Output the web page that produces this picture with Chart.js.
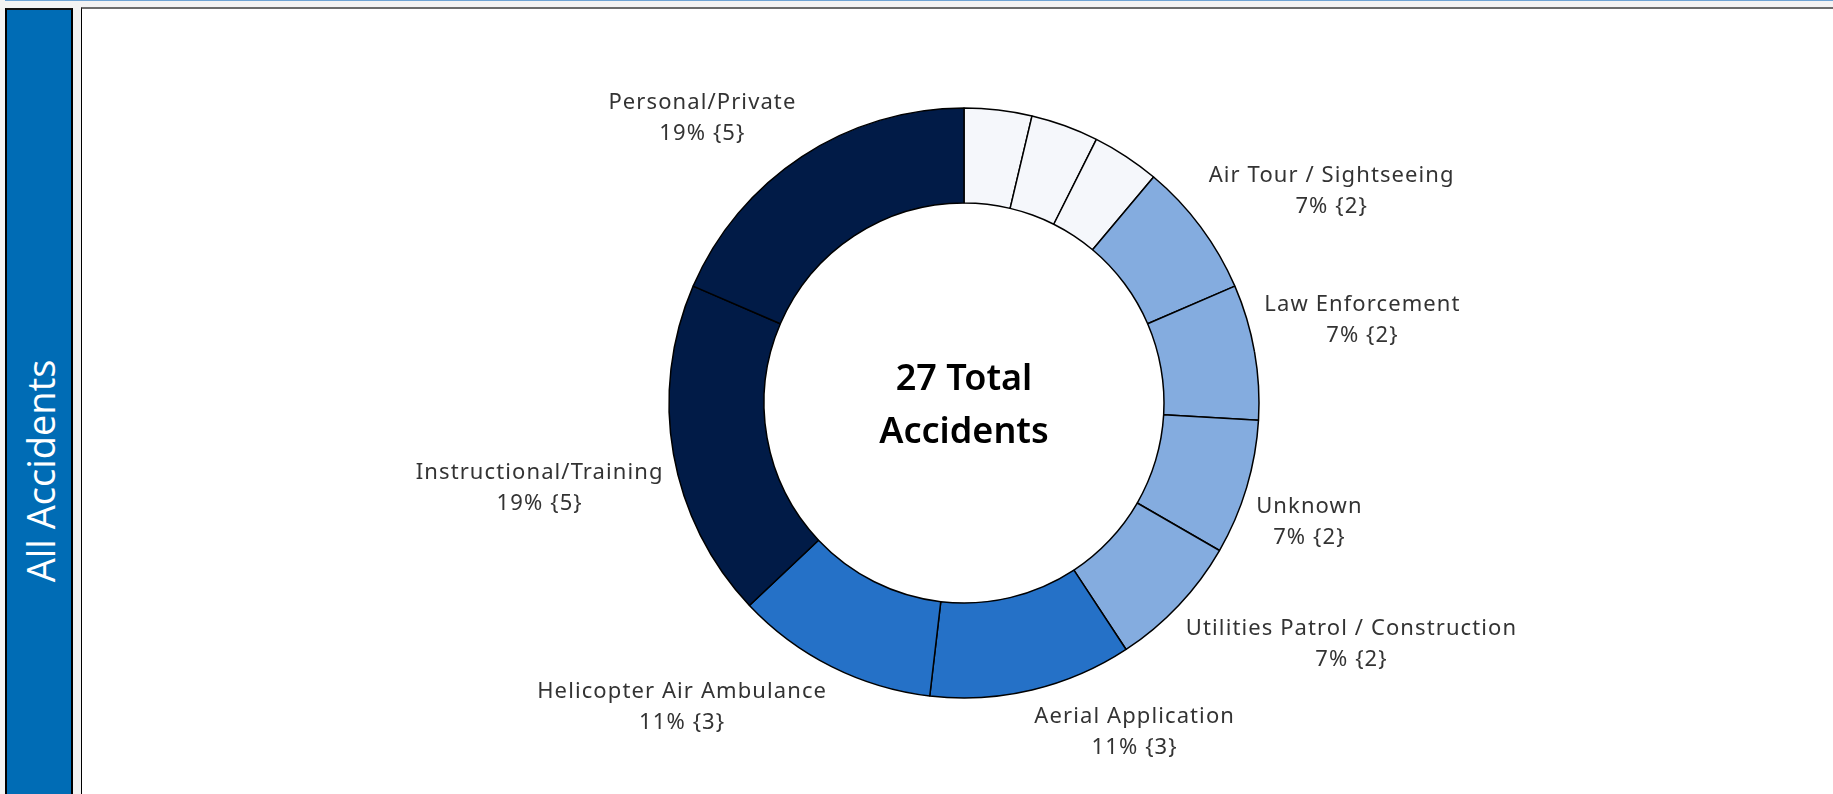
<!DOCTYPE html>
<html>
<head>
<meta charset="utf-8">
<script src="https://cdn.jsdelivr.net/npm/chart.js@4.4.1/dist/chart.umd.min.js"></script>
<style>
  html, body { margin: 0; padding: 0; }
  body { width: 1833px; height: 794px; background: #f3f3f3; position: relative; overflow: hidden; }
  #topline { position: absolute; left: 5px; top: 0; width: 1828px; height: 1px; background: #6fa3d3; }
  #side { position: absolute; left: 5px; top: 8px; width: 64px; height: 800px; background: #006cb5;
          border: 2px solid #000; border-top-color: #111; }
  #side span { position: absolute; left: 33px; top: 461px; transform: translate(-50%, -50%) rotate(-90deg);
               color: #fff; font-family: "Open Sans", sans-serif; font-size: 38px; white-space: nowrap; }
  #panel { position: absolute; left: 81px; top: 7px; width: 1760px; height: 800px; background: #fff;
           border-left: 1px solid #000; border-top: 2px solid #6d6d6d; }
  #chart { position: absolute; left: 0; top: 0; }
</style>
</head>
<body>
<div id="topline"></div>
<div id="side"><span>All Accidents</span></div>
<div id="panel"></div>
<canvas id="chart" width="1833" height="794"></canvas>
<script>
// slices clockwise from 12 o'clock (the three unlabeled ones are single accidents)
var categories = ["", "", "", "Air Tour / Sightseeing", "Law Enforcement", "Unknown",
                  "Utilities Patrol / Construction", "Aerial Application",
                  "Helicopter Air Ambulance", "Instructional/Training", "Personal/Private"];
var accidents = [1, 1, 1, 2, 2, 2, 2, 3, 3, 5, 5];

var centerTitle = "Total";
var centerSub = "Accidents";

function sliceColor(n) {
    if (n >= 5) return '#011b47';
    if (n >= 3) return '#2571c7';
    if (n >= 2) return '#84acdf';
    return '#f5f7fb';
}

//--------------------------------------------------------------------
// * labels outside the ring, corner pinned to the slice mid angle
//--------------------------------------------------------------------
var outsideLabels = {
    id: 'outsideLabels',
    afterDatasetsDraw: function(chart) {
        var ctx = chart.ctx;
        var meta = chart.getDatasetMeta(0);
        var data = chart.data.datasets[0].data;
        var total = data.reduce(function(a, b) { return a + b; }, 0);
        ctx.save();
        ctx.font = '22px "Noto Sans", sans-serif';
        ctx.letterSpacing = '1.1px';
        ctx.fillStyle = '#333';
        ctx.textBaseline = 'middle';
        ctx.textAlign = 'center';
        var lineH = 31;
        meta.data.forEach(function(arc, i) {
            var name = chart.data.labels[i];
            if (!name) return;
            var p = arc.getProps(['x', 'y', 'startAngle', 'endAngle', 'outerRadius'], true);
            var mid = (p.startAngle + p.endAngle) / 2;
            var ax = p.x + Math.cos(mid) * (p.outerRadius + 10);
            var ay = p.y + Math.sin(mid) * (p.outerRadius + 10);
            var lines = [name, Math.round(data[i] / total * 100) + '% {' + data[i] + '}'];
            var w = Math.max(ctx.measureText(lines[0]).width, ctx.measureText(lines[1]).width);
            var cx = ax >= p.x ? ax + w / 2 : ax - w / 2;
            var top = ay < p.y ? ay - lineH * 2 : ay;
            lines.forEach(function(t, k) {
                ctx.fillText(t, cx, top + lineH * k + lineH / 2 + 1);
            });
        });
        // centre text
        var c = meta.data[0];
        ctx.letterSpacing = '0px';
        ctx.font = '600 36px "Noto Sans", sans-serif';
        ctx.fillStyle = '#000';
        ctx.fillText(total + ' ' + centerTitle, c.x, c.y - 23);
        ctx.fillText(centerSub, c.x, c.y + 30);
        ctx.restore();
    }
};

var ctx = document.getElementById('chart').getContext('2d');
var chart = new Chart(ctx, {
    type: 'doughnut',
    data: {
        labels: categories,
        datasets: [{
            data: accidents,
            backgroundColor: accidents.map(sliceColor),
            borderColor: '#000',
            borderWidth: 1.5
        }]
    },
    options: {
        responsive: false,
        animation: false,
        radius: 295,
        cutout: '67.8%',
        layout: { padding: { left: 95, top: 12, right: 0, bottom: 0 } },
        plugins: {
            legend: { display: false },
            tooltip: { enabled: false }
        }
    },
    plugins: [outsideLabels]
});
</script>
</body>
</html>
